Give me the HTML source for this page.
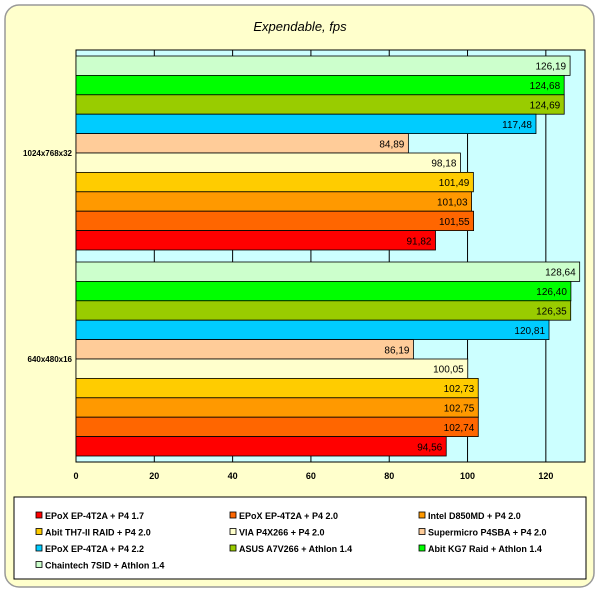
<!DOCTYPE html>
<html><head><meta charset="utf-8"><style>
body{margin:0;background:#fff;font-family:"Liberation Sans",Arial,sans-serif}
svg text{font-family:"Liberation Sans",Arial,sans-serif}
</style></head><body>
<svg id="c" width="600" height="591">
<rect x="5" y="5" width="589" height="582" rx="14" fill="#ffffcc" stroke="#999" stroke-width="1.5"/>
<text x="300" y="31" text-anchor="middle" font-size="13" font-style="italic">Expendable, fps</text>
<g id="plot"></g>
<rect x="14" y="497" width="572" height="82" fill="#fff" stroke="#000"/>
<g id="leg"></g>
</svg>
<script>
const categories=["1024x768x32","640x480x16"];
const series=["EPoX EP-4T2A + P4 1.7","EPoX EP-4T2A + P4 2.0","Intel D850MD + P4 2.0","Abit TH7-II RAID + P4 2.0","VIA P4X266 + P4 2.0","Supermicro P4SBA + P4 2.0","EPoX EP-4T2A + P4 2.2","ASUS A7V266 + Athlon 1.4","Abit KG7 Raid + Athlon 1.4","Chaintech 7SID + Athlon 1.4"];
const colors=["#ff0000","#ff6600","#ff9900","#ffcc00","#ffffcc","#ffcc99","#00ccff","#99cc00","#00ff00","#ccffcc"];
const values1024=[91.82,101.55,101.03,101.49,98.18,84.89,117.48,124.69,124.68,126.19];
const values640=[94.56,102.74,102.75,102.73,100.05,86.19,120.81,126.35,126.40,128.64];
const ticks=[0,20,40,60,80,100,120];
const NS="http://www.w3.org/2000/svg";
const X0=76,X1=585,Y0=50,Y1=462,XMAX=130;
const xs=v=>X0+v*(X1-X0)/XMAX;
const g=document.getElementById('plot');
function mk(t,a,p){const e=document.createElementNS(NS,t);for(const k in a)e.setAttribute(k,a[k]);(p||g).appendChild(e);return e;}
const bg=mk('rect',{x:X0,y:Y0,width:X1-X0,height:Y1-Y0,fill:'#ccffff',stroke:'#000'});


ticks.forEach(t=>{
 if(t>0){const l=mk('line',{x1:xs(t),x2:xs(t),y1:Y0,y2:Y1,stroke:'#000','stroke-width':1});
 
 }
 const tx=mk('text',{x:xs(t),y:Y1+17,'text-anchor':'middle','font-size':9,'font-weight':'bold'});tx.textContent=t;
 
 
});
const data=[values1024,values640];
const catH=(Y1-Y0)/categories.length, pad=6, bh=(catH-2*pad)/series.length;
categories.forEach((c,ci)=>{
 const top=Y0+ci*catH+pad;
 const lab=mk('text',{x:X0-4,y:Y0+ci*catH+catH/2+3,'text-anchor':'end','font-size':8,'font-weight':'bold'});lab.textContent=c;
 
 
 for(let si=0;si<series.length;si++){
  const idx=series.length-1-si;
  const v=data[ci][idx];
  const y=top+si*bh;
  const r=mk('rect',{x:X0,y:y,width:xs(v)-X0,height:bh,fill:colors[idx],stroke:'#000','stroke-width':0.8});
  
  
  const t=mk('text',{x:xs(v)-4,y:y+bh/2+4,'text-anchor':'end','font-size':10});t.textContent=v.toFixed(2).replace('.',',');
  
  
 }
});
const lg=document.getElementById('leg');
const cols=[36,230,419];
series.forEach((s,i)=>{
 const x=cols[i%3],y=519+Math.floor(i/3)*16.5;
 const sq=mk('rect',{x:x,y:y-7,width:6,height:6,fill:colors[i],stroke:'#000','stroke-width':0.8},lg);
 
 
 const t=mk('text',{x:x+9,y:y,'font-size':9,'font-weight':'bold'},lg);t.textContent=s;
 
 
});
</script>
</body></html>
